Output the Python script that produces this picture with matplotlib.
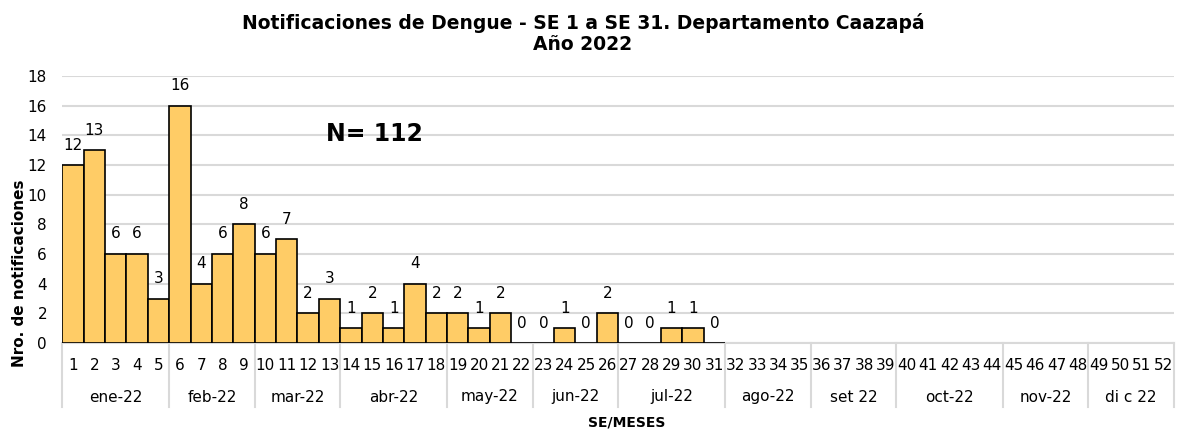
import matplotlib.pyplot as plt
import matplotlib.transforms as mtransforms
import numpy as np

# datos: notificaciones por semana epidemiologica (SE 1 a SE 31)
semanas = [str(i) for i in range(1, 53)]
casos = [12, 13, 6, 6, 3, 16, 4, 6, 8, 6, 7, 2, 3, 1, 2, 1, 4, 2, 2, 1, 2, 0,
         0, 1, 0, 2, 0, 0, 1, 1, 0]
meses = ['ene-22', 'feb-22', 'mar-22', 'abr-22', 'may-22', 'jun-22',
         'jul-22', 'ago-22', 'set 22', 'oct-22', 'nov-22', 'di c 22']
semanas_por_mes = [5, 4, 4, 5, 4, 4, 5, 4, 4, 5, 4, 4]

plt.rcParams['font.family'] = ['DejaVu Sans']
FS = 11

W, H = 1203, 430
fig = plt.figure(figsize=(W / 100, H / 100), dpi=100)
ax = fig.add_axes([62.3 / W, 87 / H, (1174 - 62.3) / W, 267 / H])

x = np.arange(len(casos))
ax.bar(x, casos, width=1.0, color='#FFCC66', edgecolor='black', linewidth=1.2, zorder=3)

# etiquetas de valores
for xi, v in zip(x, casos):
    ax.annotate(str(v), (xi, v), xytext=(0, 20), textcoords='offset pixels',
                ha='center', va='center', fontsize=FS)

ax.set_xlim(-0.5, len(semanas) - 0.5)
ax.set_ylim(0, 18)
ax.set_yticks(range(0, 19, 2))
ax.tick_params(axis='y', length=0, pad=11, labelsize=FS)
ax.set_xticks([])
ax.grid(axis='y', color='#D9D9D9', linewidth=1.5, zorder=0)
for s in ['left', 'right', 'top']:
    ax.spines[s].set_visible(False)
ax.spines['bottom'].set_color('#D9D9D9')
ax.spines['bottom'].set_linewidth(1.5)

# eje x jerarquico: semanas y meses
trans = mtransforms.blended_transform_factory(ax.transData, ax.transAxes)
for i, s in enumerate(semanas):
    ax.text(i, -22 / 267, s, transform=trans, ha='center', va='center', fontsize=FS)

inicio = 0
bordes = [-0.5]
for mes, n in zip(meses, semanas_por_mes):
    centro = inicio + (n - 1) / 2
    ax.text(centro, -54 / 267, mes, transform=trans, ha='center', va='center', fontsize=FS)
    inicio += n
    bordes.append(inicio - 0.5)
for b in bordes:
    ax.plot([b, b], [0, -64 / 267], transform=trans, color='#D9D9D9',
            linewidth=1.5, clip_on=False)

fig.text(627 / W, 1 - 427 / H, 'SE/MESES', ha='center', va='baseline',
         fontsize=10, fontweight='bold')
fig.text(20 / W, 1 - 273 / H, 'Nro. de notificaciones', rotation=90,
         ha='center', va='center', fontsize=11, fontweight='bold')

ax.text(14.1, 14.1, 'N= 112', fontsize=17, fontweight='bold', ha='center', va='center')

fig.text(583 / W, 1 - 29 / H, 'Notificaciones de Dengue - SE 1 a SE 31. Departamento Caazapá',
         ha='center', va='baseline', fontsize=13.5, fontweight='bold')
fig.text(583 / W, 1 - 50 / H, 'Año 2022',
         ha='center', va='baseline', fontsize=13.5, fontweight='bold')

plt.savefig('out.png', dpi=100)
